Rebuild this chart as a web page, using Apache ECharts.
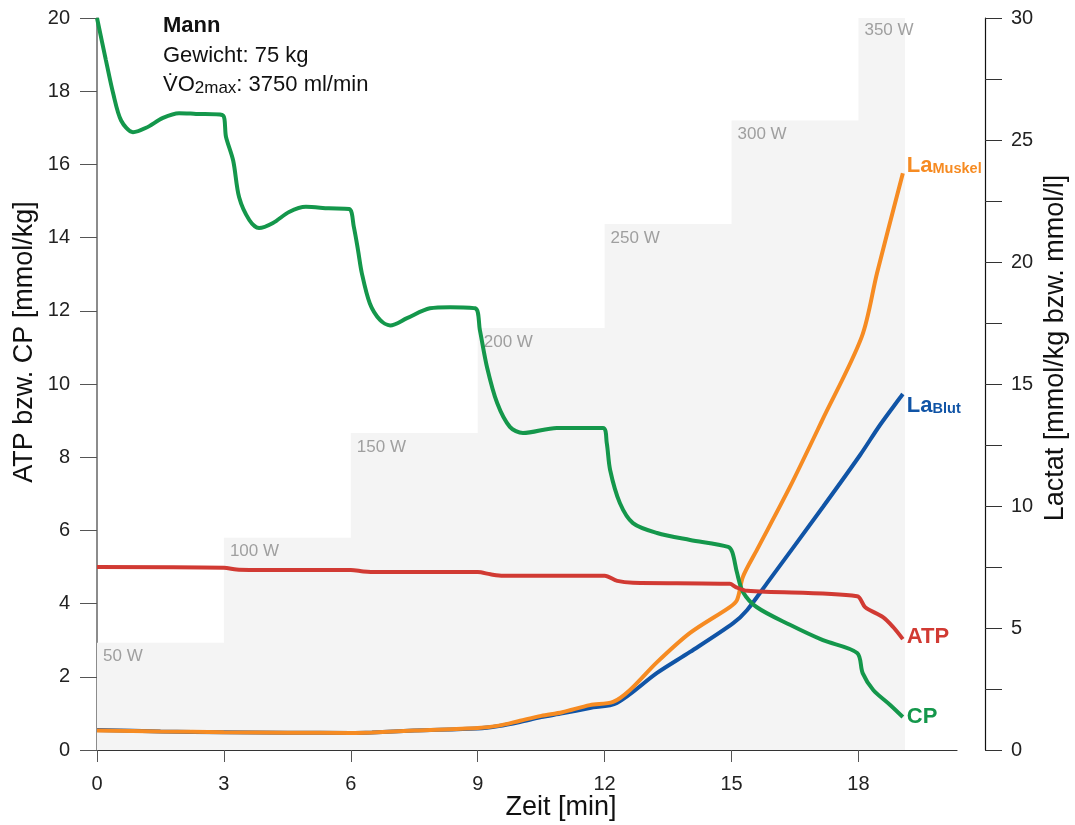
<!DOCTYPE html>
<html>
<head>
<meta charset="utf-8">
<script src="https://cdn.jsdelivr.net/npm/echarts@6/dist/echarts.min.js"></script>
<style>
html,body{margin:0;padding:0;background:#fff;}
#chart{width:1075px;height:825px;}
</style>
</head>
<body>
<div id="chart"></div>
<script>
// ---- Data ----
const xTicks = [0, 3, 6, 9, 12, 15, 18];

// power steps (left-axis units), start minute of each step
const stepX = [0, 3, 6, 9, 12, 15, 18, 19.1];
const stepTop = [2.93, 5.8, 8.66, 11.53, 14.37, 17.2, 20.05, 20.05];
const powerLabels = ['50 W', '100 W', '150 W', '200 W', '250 W', '300 W', '350 W'];

// CP [mmol/kg]
const cpX = [0, 0.21, 0.38, 0.57, 0.85, 1.16, 1.56, 1.94, 2.34, 2.96, 3.05, 3.22, 3.36, 3.6, 3.83, 4.16, 4.54, 4.94, 5.48, 5.96, 6.07, 6.17, 6.26, 6.45, 6.69, 6.93, 7.33, 7.87, 8.35, 8.94, 9.05, 9.22, 9.46, 9.76, 10.07, 10.87, 11.96, 12.05, 12.13, 12.36, 12.67, 13.24, 14.02, 14.92, 15.02, 15.13, 15.27, 15.6, 16.38, 17.16, 17.97, 18.1, 18.35, 18.75, 19.05];
const cpY = [20.0, 18.85, 17.95, 17.2, 16.88, 17.0, 17.27, 17.4, 17.38, 17.35, 16.75, 16.1, 15.1, 14.48, 14.26, 14.4, 14.7, 14.84, 14.8, 14.78, 14.3, 13.66, 13.03, 12.2, 11.75, 11.6, 11.8, 12.07, 12.1, 12.07, 11.48, 10.46, 9.48, 8.83, 8.66, 8.8, 8.8, 8.39, 7.65, 6.75, 6.2, 5.93, 5.74, 5.55, 5.4, 4.84, 4.32, 3.9, 3.42, 3.0, 2.65, 2.1, 1.64, 1.23, 0.9];

// ATP [mmol/kg]
const atpX = [0, 3.0, 3.3, 3.6, 6.0, 6.3, 6.6, 9.0, 9.3, 9.6, 12.0, 12.3, 12.67, 14.96, 15.1, 15.37, 17.97, 18.16, 18.58, 18.82, 19.05];
const atpY = [5.0, 4.98, 4.93, 4.92, 4.92, 4.88, 4.86, 4.86, 4.8, 4.76, 4.76, 4.62, 4.57, 4.54, 4.45, 4.35, 4.2, 3.9, 3.63, 3.36, 3.03];

// Lactat Muskel [mmol/kg]
const laMX = [0, 1.5, 3, 4.5, 6, 6.5, 7.5, 9, 9.5, 10, 10.5, 11, 11.65, 12.2, 12.6, 13.24, 14.02, 14.96, 15.13, 15.27, 15.6, 16.38, 17.14, 18.08, 18.44, 19.05];
const laMY = [0.8, 0.76, 0.73, 0.71, 0.7, 0.72, 0.8, 0.9, 1.0, 1.2, 1.4, 1.55, 1.84, 1.97, 2.46, 3.6, 4.8, 5.86, 6.15, 7.1, 8.2, 10.78, 13.5, 16.94, 19.55, 23.64];

// Lactat Blut [mmol/l]
const laBX = [0, 1.5, 3, 4.5, 6, 6.5, 7.5, 9, 9.5, 10, 10.5, 11, 11.65, 12.29, 13.24, 14.02, 15.04, 15.37, 15.84, 17.16, 18.04, 18.51, 19.05];
const laBY = [0.82, 0.76, 0.73, 0.71, 0.7, 0.72, 0.8, 0.88, 0.98, 1.15, 1.35, 1.5, 1.72, 1.93, 3.16, 4.02, 5.2, 5.74, 6.84, 9.96, 12.09, 13.32, 14.59];

const zip = (xs, ys) => xs.map((x, i) => [x, ys[i]]);

const C_CP = '#14974b', C_ATP = '#d13a33', C_LAM = '#f68b22', C_LAB = '#1054a6';
const SANS = '"Liberation Sans", Arial, sans-serif';

const chart = echarts.init(document.getElementById('chart'), null, {renderer: 'canvas'});

function endLbl(color, main, sub, offset) {
  return {
    show: true,
    distance: 4,
    offset: offset,
    formatter: sub ? '{a|' + main + '}{s|' + sub + '}' : '{a|' + main + '}',
    rich: {
      a: {fontFamily: SANS, fontSize: 22, fontWeight: 'bold', color: color, lineHeight: 26, verticalAlign: 'middle'},
      s: {fontFamily: SANS, fontSize: 14.5, fontWeight: 'bold', color: color, lineHeight: 26, verticalAlign: 'bottom', padding: [0, 0, 3, 0]}
    }
  };
}

const option = {
  animation: false,
  backgroundColor: '#ffffff',
  grid: {left: 97, right: 118, top: 18, bottom: 75, containLabel: false},
  xAxis: {
    type: 'value', min: 0, max: 20.33,
    axisLine: {show: true, lineStyle: {color: '#333', width: 1.2}},
    axisTick: {show: true, length: 12, customValues: xTicks, lineStyle: {color: '#555'}},
    axisLabel: {customValues: xTicks, margin: 24, fontFamily: SANS, fontSize: 20, color: '#222'},
    splitLine: {show: false}
  },
  yAxis: [
    {
      type: 'value', min: 0, max: 20, interval: 2, position: 'left',
      axisLine: {show: true, lineStyle: {color: '#666', width: 1.5}},
      axisTick: {show: true, length: 17, lineStyle: {color: '#555'}},
      axisLabel: {margin: 27, fontFamily: SANS, fontSize: 20, color: '#222'},
      splitLine: {show: false}
    },
    {
      type: 'value', min: 0, max: 30, interval: 2.5, position: 'right', offset: 28,
      axisLine: {show: true, lineStyle: {color: '#111', width: 1.2}},
      axisTick: {show: true, length: 17, lineStyle: {color: '#333'}},
      axisLabel: {margin: 26, fontFamily: SANS, fontSize: 20, color: '#222',
        formatter: v => (Math.abs(v % 5) < 1e-9 ? String(v) : '')},
      splitLine: {show: false}
    }
  ],
  graphic: [
    {type: 'text', x: 163, y: 25.5, style: {text: 'Mann', fontFamily: SANS, fontSize: 22, fontWeight: 'bold', fill: '#111', verticalAlign: 'middle'}},
    {type: 'text', x: 163, y: 56, style: {text: 'Gewicht: 75 kg', fontFamily: SANS, fontSize: 22, fill: '#111', verticalAlign: 'middle'}},
    {type: 'text', x: 163, y: 85, style: {
      text: '{a|V\u0307O}{s|2max}{a|: 3750 ml/min}',
      verticalAlign: 'middle',
      rich: {
        a: {fontFamily: SANS, fontSize: 22, fill: '#111', lineHeight: 26, verticalAlign: 'middle'},
        s: {fontFamily: SANS, fontSize: 17, fill: '#111', lineHeight: 26, verticalAlign: 'bottom', padding: [0, 0, 1, 0]}
      }
    }},
    {type: 'text', x: 25, y: 342, rotation: Math.PI / 2, style: {text: 'ATP bzw. CP [mmol/kg]', fontFamily: SANS, fontSize: 27, fill: '#111', align: 'center', verticalAlign: 'middle'}},
    {type: 'text', x: 1056, y: 348, rotation: Math.PI / 2, style: {text: 'Lactat [mmol/kg bzw. mmol/l]', fontFamily: SANS, fontSize: 27, fill: '#111', align: 'center', verticalAlign: 'middle'}},
    {type: 'text', x: 561, y: 808, style: {text: 'Zeit [min]', fontFamily: SANS, fontSize: 27, fill: '#111', align: 'center', verticalAlign: 'middle'}}
  ],
  series: [
    {
      name: 'Leistung', type: 'line', step: 'end', yAxisIndex: 0,
      data: zip(stepX, stepTop), symbol: 'none', silent: true,
      lineStyle: {width: 0, color: '#f4f4f4'},
      areaStyle: {color: '#f4f4f4', opacity: 1}, z: 1
    },
    {
      name: 'Leistungslabel', type: 'scatter', yAxisIndex: 0, symbolSize: 0, silent: true, clip: false,
      data: powerLabels.map((t, i) => ({value: [stepX[i], stepTop[i]], name: t})),
      label: {show: true, formatter: p => p.name, position: [6, 14], align: 'left', verticalAlign: 'middle',
        fontFamily: SANS, fontSize: 17, color: '#8a8a8a'},
      z: 2
    },
    {
      name: 'LaBlut', type: 'line', yAxisIndex: 1, data: zip(laBX, laBY),
      symbol: 'none', smooth: 0.3, lineStyle: {width: 4, color: C_LAB}, itemStyle: {color: C_LAB},
      endLabel: endLbl(C_LAB, 'La', 'Blut', [0, 12]), z: 3
    },
    {
      name: 'LaMuskel', type: 'line', yAxisIndex: 1, data: zip(laMX, laMY),
      symbol: 'none', smooth: 0.3, lineStyle: {width: 4, color: C_LAM}, itemStyle: {color: C_LAM},
      endLabel: endLbl(C_LAM, 'La', 'Muskel', [0, -7]), z: 4
    },
    {
      name: 'CP', type: 'line', yAxisIndex: 0, data: zip(cpX, cpY),
      symbol: 'none', smooth: 0.3, lineStyle: {width: 4, color: C_CP}, itemStyle: {color: C_CP},
      endLabel: endLbl(C_CP, 'CP', null, [0, 0]), z: 5
    },
    {
      name: 'ATP', type: 'line', yAxisIndex: 0, data: zip(atpX, atpY),
      symbol: 'none', smooth: 0.3, lineStyle: {width: 4, color: C_ATP}, itemStyle: {color: C_ATP},
      endLabel: endLbl(C_ATP, 'ATP', null, [0, -2]), z: 6
    }
  ]
};
chart.setOption(option);
</script>
</body>
</html>
